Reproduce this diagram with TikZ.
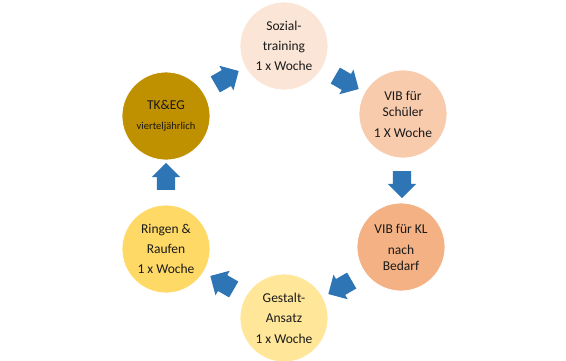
\documentclass[tikz,border=0pt]{standalone}
\usepackage{fontspec}
\setmainfont{Carlito}
\usetikzlibrary{shapes.arrows}
\definecolor{c1}{HTML}{FBE5D6}
\definecolor{c2}{HTML}{F8CBAD}
\definecolor{c3}{HTML}{F4B183}
\definecolor{c4}{HTML}{FFE699}
\definecolor{c5}{HTML}{FFD966}
\definecolor{c6}{HTML}{BF9000}
\definecolor{arr}{HTML}{2E75B6}
\definecolor{txt}{HTML}{1A1A1A}
\tikzset{
  circ/.style={circle, minimum size=88pt, inner sep=0pt, draw=white, line width=0.8pt, text=txt, align=center, font=\fontsize{13.5}{16}\selectfont},
  blockarrow/.style={single arrow, fill=arr, draw=none, text width=0pt, inner xsep=0pt, inner ysep=9pt, single arrow head extend=5pt, minimum height=27pt, rotate=#1}
}
\begin{document}
\begin{tikzpicture}[x=1pt,y=-1pt]
\useasboundingbox (0,0) rectangle (566,360);
\node[circ, fill=c1] (soz) at (284,46) {Sozial-\\[4pt]training\\[4pt]1 x Woche};
\node[circ, fill=c2] (vibs) at (403,114) {VIB für\\Schüler\\[5pt]1 X Woche};
\node[circ, fill=c3] (vibk) at (401,247) {VIB für KL\\[5pt]nach\\Bedarf};
\node[circ, fill=c4] (ges) at (284,318) {Gestalt-\\[4pt]Ansatz\\[5pt]1 x Woche};
\node[circ, fill=c5] (ring) at (166,249) {Ringen \&\\[4pt]Raufen\\[4pt]1 x Woche};
\node[circ, fill=c6] (tk) at (166,116) {TK\&EG\\[4pt]{\fontsize{10.5}{12}\selectfont vierteljährlich}};
\node[blockarrow=-30] (a1) at (343,80) {};
\node[blockarrow=-90] (a2) at (402,180) {};
\node[blockarrow=-150] (a3) at (344,285) {};
\node[blockarrow=150] (a4) at (226,285) {};
\node[blockarrow=90] (a5) at (166,181) {};
\node[blockarrow=30] (a6) at (223,80) {};
\end{tikzpicture}
\end{document}
